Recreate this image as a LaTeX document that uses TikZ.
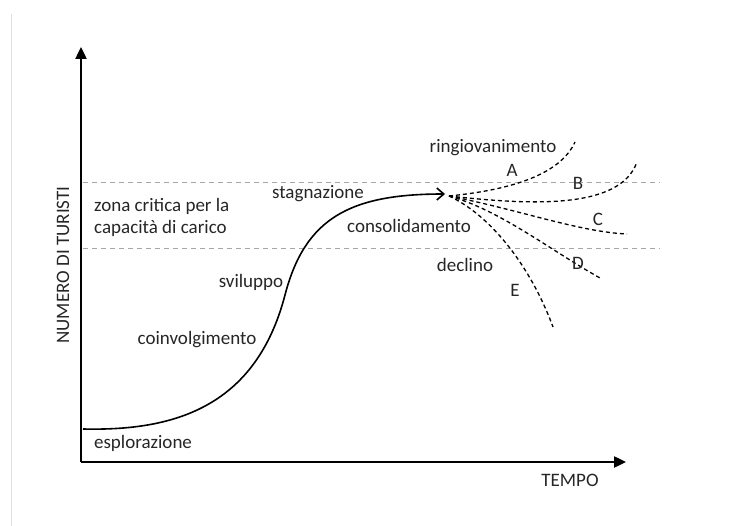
\documentclass[tikz,border=0pt]{standalone}
\usepackage{fontspec}
\setmainfont{Carlito}
\usetikzlibrary{arrows.meta}
\tikzset{
  lbl/.style={font=\fontsize{19}{22}\selectfont,text=black!85,inner sep=0pt},
  axis/.style={line width=2.4pt,-{Triangle[length=12pt,width=11pt]}},
  zona/.style={gray!70,line width=1pt,dash pattern=on 5pt off 4pt},
  ramo/.style={line width=1.3pt,dash pattern=on 4pt off 3pt}
}
\begin{document}
\begin{tikzpicture}[x=1pt,y=-1pt]
  \useasboundingbox (0,0) rectangle (731,526);
  \draw[black!12,line width=0.8pt] (11,14)--(11,526);
  % assi
  \coordinate (O) at (81,462);
  \coordinate (ytop) at (81,47);
  \coordinate (xend) at (626,462);
  \draw[axis] (O)--(ytop);
  \draw[axis] (O)--(xend);
  \node[lbl,rotate=90] (ylab) at (63,265) {NUMERO DI TURISTI};
  \node[lbl] (xlab) at (570,480) {TEMPO};
  % zona critica
  \draw[zona] (83,183)--(660,183);
  \draw[zona] (83,249)--(660,249);
  \node[lbl,anchor=west,align=left] (crit) at (94,217) {zona critica per la\\capacità di carico};
  % curva del ciclo di vita
  \coordinate (Q) at (83,429);
  \coordinate (F) at (285,295);
  \coordinate (P) at (445,194);
  \draw[line width=1.6pt,-{Straight Barb[length=7pt,width=12pt]}]
    (Q) .. controls (170,431) and (255,410) .. (F)
        .. controls (305,218) and (350,194) .. (P);
  % rami
  \coordinate (S) at (449,196);
  \coordinate (A) at (575,142);
  \coordinate (B) at (637,162);
  \coordinate (C) at (627,234);
  \coordinate (D) at (600,278);
  \coordinate (E) at (553,327);
  \draw[ramo] (S) .. controls (510,190) and (560,175) .. (A);
  \draw[ramo] (S) .. controls (530,205) and (620,210) .. (B);
  \draw[ramo] (S) .. controls (520,210) and (580,232) .. (C);
  \draw[ramo] (S) .. controls (500,210) and (550,250) .. (D);
  \draw[ramo] (S) .. controls (490,215) and (530,265) .. (E);
  % etichette
  \node[lbl] (esp) at (143,443) {esplorazione};
  \node[lbl] (coin) at (197,340) {coinvolgimento};
  \node[lbl] (svi) at (251,282) {sviluppo};
  \node[lbl] (stag) at (318,194) {stagnazione};
  \node[lbl] (cons) at (409,226) {consolidamento};
  \node[lbl] (ringio) at (493,148) {ringiovanimento};
  \node[lbl] (decl) at (465,265) {declino};
  \node[lbl] (la) at (512,170) {A};
  \node[lbl] (lb) at (578,183) {B};
  \node[lbl] (lc) at (598,219) {C};
  \node[lbl] (ld) at (578,263) {D};
  \node[lbl] (le) at (515,290) {E};
\end{tikzpicture}
\end{document}
